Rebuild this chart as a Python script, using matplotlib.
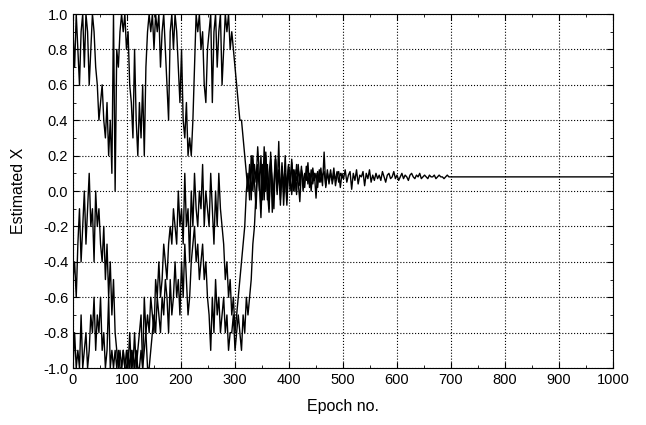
import numpy as np
import matplotlib
matplotlib.use("Agg")
import matplotlib.pyplot as plt
from matplotlib.ticker import MultipleLocator

plt.rcParams['font.family'] = ['Liberation Sans', 'DejaVu Sans']
plt.rcParams['axes.unicode_minus'] = False

step = 3

# upper trajectory
a_early = [0.9, 0.7, 1.0, 0.8, 0.6, 0.9, 1.0, 0.7, 1.0, 0.9, 0.6,
           0.8, 1.0, 0.9, 0.7, 0.6, 0.4, 0.5, 0.6, 0.4,
           0.3, 0.5, 0.2, 0.4, 0.1, 1.0, 0.0,
           0.8, 0.7, 0.9, 1.0, 0.9, 1.0, 0.8,
           0.9, 0.6, 0.5, 0.3, 0.8, 0.4, 0.2, 0.5, 0.3, 0.6, 0.2, 0.7, 0.9,
           1.0, 0.9, 1.0, 0.8, 1.0, 0.9, 1.0, 0.7, 0.9, 1.0, 0.8,
           0.6, 0.4, 0.9, 1.0, 0.8, 1.0, 0.9, 0.7, 0.5,
           0.8, 0.4, 0.3, 0.5, 0.2, 0.3, 0.2, 0.4,
           0.7, 1.0, 0.9, 1.0, 0.8, 0.9, 0.6, 0.5, 0.8,
           0.9, 1.0, 0.5, 0.9, 1.0, 0.7, 0.9, 1.0, 0.6, 0.8, 1.0, 0.9, 1.0, 0.8,
           0.9, 0.8, 0.7, 0.6, 0.5, 0.4, 0.4, 0.3, 0.2, 0.1,
           0.0, 0.15, -0.05, 0.2, 0.05, -0.1, 0.15, 0.0]
a_late = [0.20, -0.05, 0.25, 0.0, 0.15, -0.10, 0.22, 0.05, -0.02, 0.18, 0.0, 0.28,
          -0.08, 0.12, 0.02, 0.20, -0.05, 0.15,
          0.0, 0.18, 0.05, 0.12, -0.02, 0.15, 0.03, 0.14, 0.0, 0.10, 0.06, 0.16,
          0.02, 0.12, 0.04, 0.10, -0.04, 0.11, 0.05, 0.13, 0.03, 0.22, 0.02,
          0.12, 0.04, 0.10, 0.06, 0.13, 0.03, 0.09, 0.11, 0.02, 0.10, 0.07, 0.12,
          0.05, 0.09, 0.11, 0.01, 0.10, 0.06, 0.12, 0.04, 0.09, 0.08, 0.11, 0.03,
          0.10, 0.07, 0.12, 0.05, 0.09, 0.06,
          0.10, 0.07, 0.09, 0.06, 0.11, 0.08, 0.05, 0.09, 0.10, 0.07, 0.08, 0.11,
          0.07, 0.09, 0.06, 0.08, 0.10, 0.07, 0.09, 0.08, 0.06, 0.09, 0.10, 0.08,
          0.07, 0.09, 0.08, 0.10, 0.07, 0.08,
          0.09, 0.08, 0.07, 0.09, 0.08, 0.08, 0.09, 0.07, 0.08, 0.09, 0.08, 0.08,
          0.07, 0.08, 0.09, 0.08, 0.08]
final_epoch = 1000
final_value = 0.08

# middle trajectory
b_vals = [-0.5, -0.4, -0.6, -0.3, -0.1, -0.4, -0.2, 0.0, -0.3, -0.1, 0.1,
          -0.2, -0.1, -0.4, 0.0, -0.2, -0.1, -0.3, -0.4, -0.2,
          -0.5, -0.3, -0.6, -0.4, -0.7, -0.5, -0.8,
          -0.9, -1.0, -0.9, -1.0, -0.9, -1.0, -1.0,
          -0.9, -1.0, -0.9, -1.0, -0.8, -1.0, -0.9, -0.8, -0.7, -1.0, -0.9, -0.8, -0.7,
          -0.8, -0.6, -0.7, -0.8, -0.5, -0.6, -0.4, -0.6, -0.5, -0.3, -0.4,
          -0.5, -0.3, -0.2, -0.3, -0.1, -0.2, -0.3, 0.0, -0.2,
          -0.1, -0.3, 0.1, -0.2, -0.1, -0.4, 0.0, -0.2,
          0.1, -0.1, -0.2, 0.0, -0.1, 0.15, -0.2, 0.0, -0.1,
          -0.2, 0.1, -0.1, -0.3, 0.0, -0.2, 0.1, -0.1, -0.2, -0.3, -0.5, -0.4, -0.6, -0.5,
          -0.7, -0.6, -0.8, -0.7, -0.6, -0.5, -0.4, -0.3, -0.2, 0.0,
          0.1, -0.05, 0.2, 0.0, 0.15, 0.05, 0.25, 0.1,
          -0.10, 0.15, 0.0, 0.22, -0.05, 0.10, 0.18, -0.12, 0.05, 0.20, -0.02, 0.12,
          0.0, 0.16, -0.08, 0.10, 0.04, 0.14,
          0.10, -0.02, 0.12, 0.0, 0.15, 0.05, -0.06, 0.12, 0.08, 0.02, 0.14, 0.04,
          0.10, 0.0, 0.13, 0.06, 0.10, 0.02, 0.12, 0.05, 0.09, 0.11, 0.03, 0.10,
          0.06, 0.12, 0.04, 0.09, 0.07, 0.11, 0.05, 0.10, 0.08, 0.07]

# lower trajectory
c_vals = [-1.0, -0.8, -1.0, -0.9, -1.0, -0.7, -1.0, -0.9, -0.8, -1.0, -0.9,
          -0.7, -0.8, -0.6, -0.9, -0.7, -0.8, -0.6, -0.9, -0.8,
          -1.0, -0.9, -0.6, -1.0, -0.9, -1.0, -0.9,
          -1.0, -0.9, -1.0, -1.0, -0.9, -1.0, -0.9,
          -1.0, -0.8, -1.0, -0.9, -1.0, -0.9, -1.0, -1.0, -0.9, -1.0, -0.6, -0.8, -1.0,
          -1.0, -0.9, -0.8, -0.7, -0.8, -0.6, -0.7, -0.8, -0.6, -0.7, -0.5,
          -0.6, -0.8, -0.5, -0.7, -0.6, -0.4, -0.6, -0.5, -0.7,
          -0.4, -0.6, -0.3, -0.5, -0.7, -0.6, -0.4, -0.3,
          -0.2, -0.4, -0.3, -0.5, -0.4, -0.3, -0.5, -0.4, -0.6,
          -0.7, -0.9, -0.6, -0.8, -0.5, -0.7, -0.6, -0.8, -0.7, -0.6, -0.8, -0.7, -0.9, -0.8,
          -0.8, -0.7, -0.9, -0.8, -0.7, -0.8, -0.9, -0.7, -0.8, -0.6,
          -0.7, -0.6, -0.5, -0.3, -0.2, 0.0, 0.1, 0.05,
          -0.15, 0.12, -0.05, 0.2, 0.0, -0.12, 0.15, 0.05, -0.1, 0.18, 0.02, 0.1,
          -0.05, 0.14, 0.0, 0.08, -0.08, 0.12, 0.04, 0.16, 0.0, 0.1, 0.06, 0.12, 0.08]

fig = plt.figure(figsize=(6.46, 4.25), dpi=100)
ax = fig.add_axes([0.113, 0.134, 0.836, 0.833])

a_vals = a_early + a_late
a_x = list(np.arange(len(a_vals)) * step) + [final_epoch]
ax.plot(a_x, a_vals + [final_value], color='black', lw=1.0)
ax.plot(np.arange(len(b_vals)) * step, b_vals, color='black', lw=1.0)
ax.plot(np.arange(len(c_vals)) * step, c_vals, color='black', lw=1.0)

ax.set_xlim(0, 1000)
ax.set_ylim(-1.0, 1.0)
ax.xaxis.set_major_locator(MultipleLocator(100))
ax.xaxis.set_minor_locator(MultipleLocator(50))
ax.yaxis.set_major_locator(MultipleLocator(0.2))
ax.yaxis.set_minor_locator(MultipleLocator(0.1))
ax.yaxis.set_major_formatter(plt.FormatStrFormatter('%.1f'))
ax.tick_params(which='both', direction='in', top=True, right=True, labelsize=10.5)
ax.tick_params(which='major', length=4)
ax.tick_params(which='minor', length=2)
ax.grid(True, linestyle=':', color='black', linewidth=0.8)

ax.set_xlabel('Epoch no.', fontsize=11.5, labelpad=9)
ax.set_ylabel('Estimated X', fontsize=11.5, labelpad=12)

fig.savefig('out.png', dpi=100)
